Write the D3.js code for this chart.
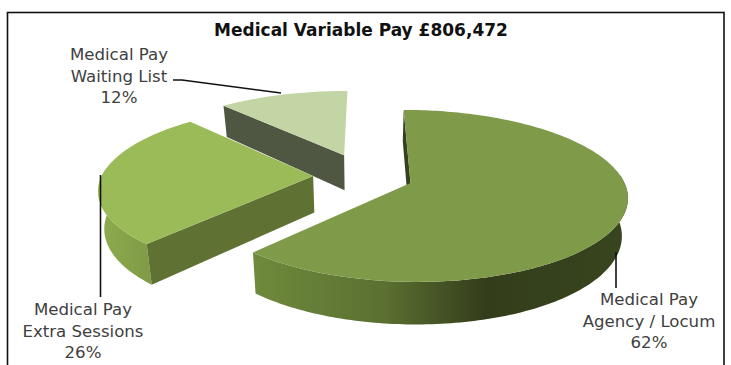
<!DOCTYPE html>
<html>
<head>
<meta charset="utf-8">
<script src="https://cdn.jsdelivr.net/npm/d3@7"></script>
<style>
  html, body { margin: 0; padding: 0; background: #fff; }
  svg { display: block; }
  text { font-family: "DejaVu Sans", "Open Sans", sans-serif; }
</style>
</head>
<body>
<svg id="chart" width="731" height="365"></svg>
<script>
// Pay categories and their share of the total, in pie order
const categories = ["Medical Pay\nAgency / Locum", "Medical Pay\nExtra Sessions", "Medical Pay\nWaiting List"];
const shares = [62, 26, 12];
const chartTitle = "Medical Variable Pay £806,472";

// Slice styling, same order as the categories
const topColors = ["#7f9a48", "#9bbb59", "#c3d4a5"];
const wallColors = ["#36421d", "#5f7233", "#4f5642"];
const rimStops = [
  [["#6f8a3c", 0], ["#5b7031", 0.35], ["#333d1b", 0.62], ["#38451e", 1]],
  [["#8fab4e", 0], ["#7f9a45", 0.6], ["#86a148", 1]],
  [["#4f5642", 0], ["#4f5642", 1]]
];

// Each slice is pulled away from the pie centre by this much (world units)
const explodeX = [45.5, -52.5, -22];
const explodeY = [0, -0.082, -0.34];

// Tilted-plane camera: things nearer the viewer are drawn larger
const vanishX = 365, originY = 183;
const radius = 214, squash = 86, nearGain = 0.15;
const thickness = 37, floorShrink = 0.977;

const svg = d3.select("#chart");
const defs = svg.append("defs");

function project(worldX, worldY, level) {
  const s = 1 + nearGain * worldY;
  const x = worldX * s;
  const y = originY + squash * worldY * s;
  return level === 0
    ? [vanishX + x, y]
    : [vanishX + x * floorShrink, y + thickness * s];
}

function rimPoint(i, angle, level) {
  return project(
    explodeX[i] + radius * Math.sin(angle),
    explodeY[i] - Math.cos(angle),
    level
  );
}

const pieLayout = d3.pie().sort(null).startAngle(0).endAngle(2 * Math.PI);
const arcs = pieLayout(shares);
const outline = d3.line().curve(d3.curveLinearClosed);

function arcAngles(a) {
  const n = Math.ceil((a.endAngle - a.startAngle) / 0.02);
  return d3.range(n + 1).map(k => a.startAngle + (a.endAngle - a.startAngle) * k / n);
}

// Horizontal shading along the curved outer wall of each slice
arcs.forEach((a, i) => {
  const xs = d3.extent(arcAngles(a), t => rimPoint(i, t, 0)[0]);
  const grad = defs.append("linearGradient")
    .attr("id", "rim" + i)
    .attr("gradientUnits", "userSpaceOnUse")
    .attr("x1", xs[0]).attr("x2", xs[1]).attr("y1", 0).attr("y2", 0);
  grad.selectAll("stop").data(rimStops[i]).join("stop")
    .attr("offset", d => d[1])
    .attr("stop-color", d => d[0]);
});

// Back slices first so the nearer ones overlap them
const slices = svg.append("g").selectAll("g")
  .data(arcs.map((a, i) => ({ a, i })).reverse())
  .join("g");

slices.each(function ({ a, i }) {
  const g = d3.select(this);
  const angles = arcAngles(a);
  const top = angles.map(t => rimPoint(i, t, 0));
  const floor = angles.map(t => rimPoint(i, t, 1));
  const apexTop = project(explodeX[i], explodeY[i], 0);
  const apexFloor = project(explodeX[i], explodeY[i], 1);

  // The outer wall only shows on the half of the rim facing the viewer
  const facing = angles.filter(t => Math.cos(t) < 0.1);
  if (facing.length > 1) {
    const rimTop = facing.map(t => rimPoint(i, t, 0));
    const rimFloor = facing.map(t => rimPoint(i, t, 1));
    g.append("path")
      .attr("d", outline(rimTop.concat(rimFloor.reverse())))
      .attr("fill", `url(#rim${i})`);
  }
  g.append("path")
    .attr("d", outline([apexTop, top[0], floor[0], apexFloor]))
    .attr("fill", wallColors[i]);
  g.append("path")
    .attr("d", outline([apexTop].concat(top)))
    .attr("fill", topColors[i]);
});

// Outer frame; its lower edge runs off the page
svg.append("rect")
  .attr("x", 7.5).attr("y", 12.5).attr("width", 716.5).attr("height", 370)
  .attr("fill", "none").attr("stroke", "#111").attr("stroke-width", 1.6);

svg.append("text")
  .attr("x", 361).attr("y", 36)
  .attr("text-anchor", "middle")
  .attr("font-size", 17).attr("font-weight", 700).attr("fill", "#111")
  .text(chartTitle);

// Leader lines from each label to its slice
const leaderPaths = [
  [[616, 252], [616, 288]],
  [[100.5, 175], [100.5, 297]],
  [[173, 80], [182, 80], [281, 93]]
];
svg.append("g").selectAll("path").data(leaderPaths).join("path")
  .attr("d", d3.line())
  .attr("fill", "none").attr("stroke", "#111").attr("stroke-width", 1.6);

// Three-line data labels: name, qualifier, percentage
const labelX = [649, 83, 119];
const labelY = [305, 315, 60];
const lineStep = 21.7;
svg.append("g").selectAll("text").data(categories).join("text")
  .attr("text-anchor", "middle")
  .attr("font-size", 16.6)
  .attr("fill", "#404040")
  .each(function (d, i) {
    const lines = d.split("\n").concat(shares[i] + "%");
    d3.select(this).selectAll("tspan").data(lines).join("tspan")
      .attr("x", labelX[i])
      .attr("y", (_, k) => labelY[i] + k * lineStep)
      .text(t => t);
  });
</script>
</body>
</html>
